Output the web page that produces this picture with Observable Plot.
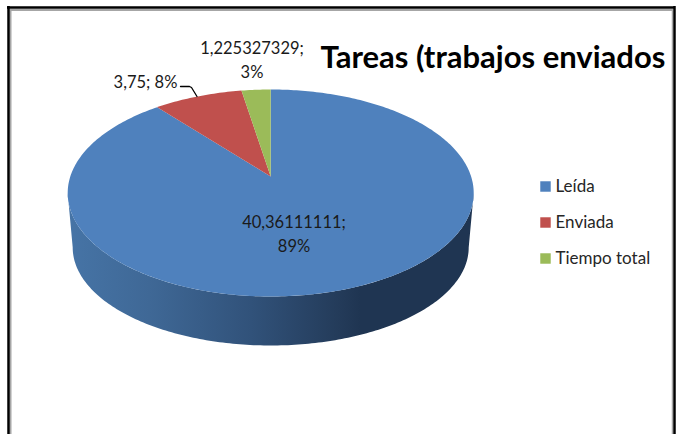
<!DOCTYPE html>
<html><head><meta charset="utf-8">
<script src="https://cdn.jsdelivr.net/npm/d3@7"></script>
<script src="https://cdn.jsdelivr.net/npm/@observablehq/plot@0.6"></script>
<style>html,body{margin:0;padding:0;background:#fff}svg{display:block}</style>
</head><body><div id="chart"></div>
<script>
const names = ["Leída", "Enviada", "Tiempo total"];
const values = [40.36111111, 3.75, 1.225327329];
const valueLabels = ["40,36111111;\n89%", "3,75; 8%", "1,225327329;\n3%"];
const colors = ["#4f81bd", "#c0504d", "#9bbb59"];
const titleText = "Tareas (trabajos enviados";

const W = 681, H = 434;
const FONT = "Lato, 'Open Sans', sans-serif";
// top face: ellipse seen in perspective, the centre of the disc is moved up by c
const top_ = {cx: 270.2, cy: 192.5, rx: 203, ry: 103.5, c: 0.16};
const bottom_ = {cx: 270.2, cy: 247, rx: 198, ry: 98};
const project = a => {
  const X = Math.sin(a), Y = Math.cos(a), k = 1 + top_.c * Y;
  const u = X * Math.sqrt(1 - top_.c ** 2) / k, v = (Y + top_.c) / k;
  return {x: top_.cx + u * top_.rx, y: top_.cy - v * top_.ry};
};
const apex = {x: top_.cx, y: top_.cy - top_.c * top_.ry};
const arcs = d3.pie().sort(null)(values);
const slices = arcs.flatMap((s, i) => {
  const n = Math.max(4, Math.ceil((s.endAngle - s.startAngle) * 60));
  const pts = d3.range(n + 1).map(j => project(s.startAngle + (s.endAngle - s.startAngle) * j / n));
  return [apex, ...pts, apex].map(p => ({...p, name: names[i]}));
});
const ell = (e, t) => ({x: e.cx + e.rx * Math.cos(t), y: e.cy + e.ry * Math.sin(t)});
const wall = [
  ...d3.range(0, 181).map(t => ell(top_, t * Math.PI / 180)),
  ...d3.range(180, -1, -1).map(t => ell(bottom_, t * Math.PI / 180))
];
const legend = names.map((name, i) => ({name, y: 186 + i * 36}));
const dataLabels = [
  {text: valueLabels[0], x: 293.5, y: 231.5},
  {text: valueLabels[1], x: 145, y: 80},
  {text: valueLabels[2], x: 251.5, y: 58}
];
const leader = [{x: 180, y: 86}, {x: 189, y: 86}, {x: 191, y: 87}, {x: 196.5, y: 96}];

const defs = () => {
  const d = d3.create("svg:defs");
  const g = d.append("linearGradient").attr("id", "wallGrad")
    .attr("gradientUnits", "userSpaceOnUse")
    .attr("x1", 68).attr("x2", 473).attr("y1", 0).attr("y2", 0);
  [[0, "#4674a6"], [0.2, "#3f6896"], [0.45, "#31527a"], [0.68, "#233a58"], [0.72, "#1f3552"], [1, "#1f3552"]]
    .forEach(([o, c]) => g.append("stop").attr("offset", o).attr("stop-color", c));
  return d.node();
};

const plot = Plot.plot({
  width: W, height: H, margin: 0,
  x: {domain: [0, W], range: [0, W], axis: null},
  y: {domain: [0, H], range: [0, H], axis: null},
  color: {domain: names, range: colors},
  style: {background: "#fff", fontFamily: FONT},
  marks: [
    defs,
    // frame
    Plot.ruleX([10], {y1: 9, y2: H, stroke: "#a6a6a6", strokeWidth: 2}),
    Plot.ruleX([672], {y1: 9, y2: H, stroke: "#a6a6a6", strokeWidth: 1.5}),
    Plot.ruleY([9.5], {x1: 10, x2: 672, stroke: "#a6a6a6", strokeWidth: 2}),
    Plot.ruleX([8], {y1: 6, y2: H, stroke: "#000", strokeWidth: 2.5}),
    Plot.ruleX([674], {y1: 6, y2: H, stroke: "#000", strokeWidth: 2.5}),
    Plot.ruleY([7], {x1: 7, x2: 675, stroke: "#000", strokeWidth: 2.5}),
    // pie
    Plot.line(wall, {x: "x", y: "y", fill: "url(#wallGrad)", stroke: "none", curve: "linear"}),
    Plot.line(slices, {x: "x", y: "y", z: "name", fill: "name", stroke: "none", curve: "linear"}),
    Plot.line(leader, {x: "x", y: "y", stroke: "#000", strokeWidth: 1.3, curve: "linear"}),
    // texts
    Plot.text(dataLabels, {x: "x", y: "y", text: "text", fontSize: 16.5, fill: "#1a1a1a", lineHeight: 1.45, textAnchor: "middle"}),
    Plot.text([titleText], {x: 320, y: 58, text: d => d, textAnchor: "start", fontSize: 31, fontWeight: 700, fill: "#000"}),
    // legend
    Plot.dot(legend, {x: 545, y: "y", symbol: "square", r: 5.9, fill: "name", stroke: "none"}),
    Plot.text(legend, {x: 555, y: "y", text: "name", textAnchor: "start", fontSize: 17, fill: "#262626"})
  ]
});
document.getElementById("chart").append(plot);
</script></body></html>
